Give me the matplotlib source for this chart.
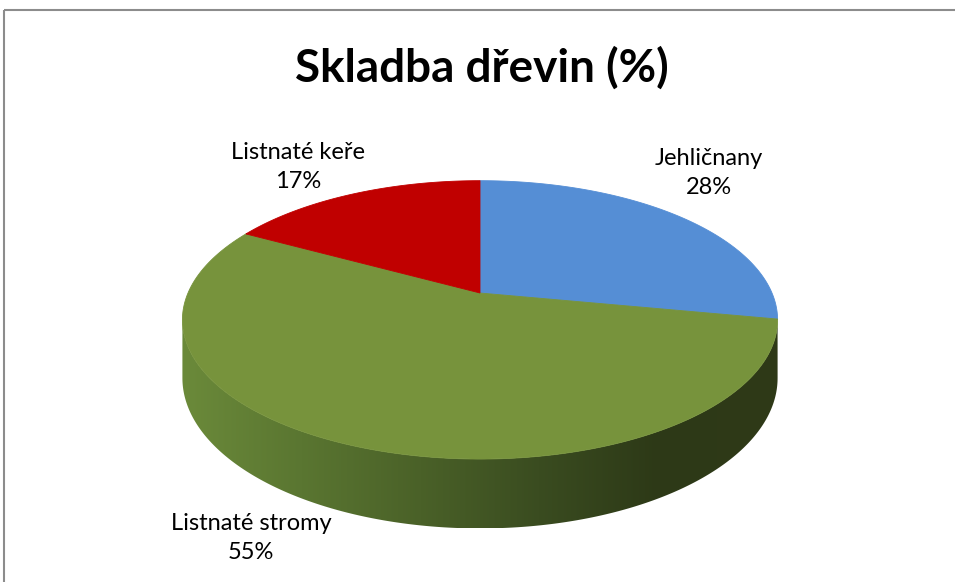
import numpy as np
import matplotlib.pyplot as plt
from matplotlib.patches import Polygon, Rectangle
from matplotlib.colors import LinearSegmentedColormap

# data
labels = ['Jehličnany', 'Listnaté stromy', 'Listnaté keře']
shares = [28, 55, 17]
colors = ['#558ED5', '#77933C', '#C00000']
title = 'Skladba dřevin (%)'

# 3d pie geometry (pixels, y down)
cx, cy = 480, 293
R, H, k = 292, 134, 0.193
d = 56


def project(t, drop=0.0):
    u, v = np.cos(t), np.sin(t)
    s = 1 / (1 + k * v)
    return cx + R * u * s, cy - H * v * s + drop * s


fig = plt.figure(figsize=(9.55, 5.82), dpi=100)
ax = fig.add_axes([0, 0, 1, 1])
ax.set_xlim(0, 955)
ax.set_ylim(582, 0)
ax.axis('off')

ax.add_patch(Rectangle((4, 10), 960, 600, fill=False, ec='#8c8c8c', lw=1.5))

# side wall (front half only is visible)
a = np.arcsin(k)
ts = np.linspace(-a, -np.pi + a, 300)
tx, ty = project(ts)
bx, by = project(ts[::-1], d)
side = Polygon(np.column_stack([np.r_[tx, bx], np.r_[ty, by]]), closed=True,
               fc='none', ec='none')
ax.add_patch(side)
side_cmap = LinearSegmentedColormap.from_list(
    'side', ['#6b8a3a', '#5a7631', '#4a6128', '#3a4c20', '#2d3917', '#2f3a18'])
grad = np.linspace(0, 1, 256)[None, :]
im = ax.imshow(grad, cmap=side_cmap, aspect='auto',
               extent=[tx.min(), tx.max(), by.max(), ty.min()], zorder=1)
im.set_clip_path(side)

# top face slices, clockwise from 12 o'clock
start = np.pi / 2
total = sum(shares)
for share, col in zip(shares, colors):
    end = start - 2 * np.pi * share / total
    t = np.linspace(start, end, 200)
    px, py = project(t)
    pts = np.column_stack([np.r_[cx, px], np.r_[cy, py]])
    ax.add_patch(Polygon(pts, closed=True, fc=col, ec=col, lw=0.6, zorder=2))
    start = end

ax.text(482, 68, title, ha='center', va='center', fontsize=33,
        fontweight='bold', family='Lato')

lab_pos = {'Jehličnany': (709, 173), 'Listnaté stromy': (251, 538),
           'Listnaté keře': (298, 167)}
for lab, share in zip(labels, shares):
    x, y = lab_pos[lab]
    ax.text(x, y, f'{lab}\n{share}%', ha='center', va='center', fontsize=17,
            family='Lato', linespacing=1.45)

fig.savefig('out.png', dpi=100)
